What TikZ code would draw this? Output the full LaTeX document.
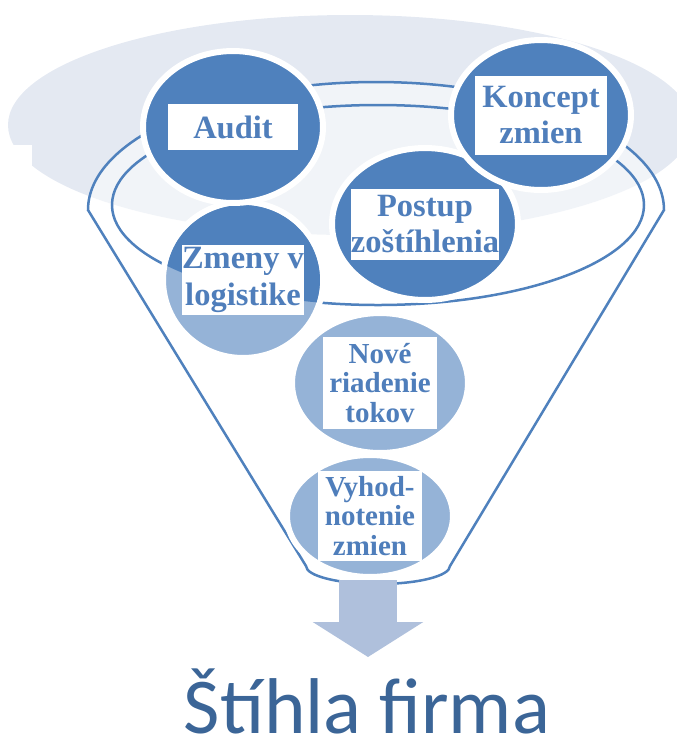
\documentclass[tikz,border=0pt]{standalone}
\usepackage{fontspec}
\newfontfamily\boxfont{Liberation Serif}
\newfontfamily\titlefont{Carlito}
\usetikzlibrary{shapes.geometric,arrows.meta}
\definecolor{bgblue}{HTML}{E4E9F2}
\definecolor{lineblue}{HTML}{4F81BD}
\definecolor{darkblue}{HTML}{4F81BD}
\definecolor{lightblue}{HTML}{95B3D7}
\definecolor{textblue}{HTML}{4F7EBB}
\definecolor{arrowblue}{HTML}{AFC0DC}
\definecolor{titleblue}{HTML}{3B6597}

\begin{document}
\begin{tikzpicture}[x=0.02cm, y=-0.02cm,
  blob/.style={shape=ellipse, draw=white, line width=0.12cm, inner sep=0pt},
  darkblob/.style={blob, fill=darkblue},
  lightblob/.style={blob, fill=lightblue},
  boxlabel/.style={fill=white, inner sep=0pt, align=center, text=textblue,
    font=\boxfont\bfseries\fontsize{18.5}{21}\selectfont},
  smalllabel/.style={boxlabel, font=\boxfont\bfseries\fontsize{16.5}{17}\selectfont},
  rim/.style={draw=lineblue, line width=0.05cm}]
\useasboundingbox (0,0) rectangle (677,752);
\clip (0,0) rectangle (677,752);

\fill[bgblue] (350,125) ellipse [x radius=342, y radius=110];
\fill[white] (0,145) rectangle (32,260);

\path[rim, fill=white, fill opacity=.5] (88,210) arc [start angle=180, end angle=360, x radius=288, y radius=128]
  -- (450,566) arc [start angle=0, end angle=180, x radius=72, y radius=18] -- cycle;
\draw[rim] (378,205) ellipse [x radius=266, y radius=100];

\node[lightblob, minimum width=3.2cm, minimum height=3.12cm] (zmeny) at (243,280) {};
\begin{scope}
  \clip (378,205) ellipse [x radius=266, y radius=100];
  \fill[darkblue] (zmeny.center) ellipse [x radius=1.54cm, y radius=1.5cm];
\end{scope}
\node[lightblob, minimum width=3.52cm, minimum height=2.8cm] (nove) at (380,383) {};
\node[lightblob, minimum width=3.32cm, minimum height=2.44cm] (vyhod) at (370,516) {};
\node[darkblob, minimum width=3.72cm, minimum height=3.04cm] (postup) at (425,224) {};
\node[darkblob, minimum width=3.6cm, minimum height=3.04cm] (audit) at (233,127) {};
\node[darkblob, minimum width=3.6cm, minimum height=3cm] (koncept) at (541,115) {};

\node[boxlabel, minimum width=2.6cm, minimum height=0.92cm] (auditbox) at (audit) {Audit};
\node[boxlabel, minimum width=2.64cm, minimum height=1.58cm] (konceptbox) at (koncept) {Koncept\\zmien};
\node[boxlabel, minimum width=2.98cm, minimum height=1.42cm] (postupbox) at (postup) {Postup\\zoštíhlenia};
\node[boxlabel, minimum width=2.42cm, minimum height=1.4cm] (zmenybox) at (zmeny) {Zmeny v\\logistike};
\node[smalllabel, minimum width=2.3cm, minimum height=1.84cm] (novebox) at (nove) {Nové\\riadenie\\tokov};
\node[smalllabel, minimum width=2.1cm, minimum height=1.8cm] (vyhodbox) at (vyhod) {Vyhod-\\notenie\\zmien};

\coordinate (arrowtop) at (368,580);
\coordinate (arrowtip) at (368,657);
\draw[arrowblue, line width=1.18cm, -{Triangle[length=0.7cm, width=2.18cm]}] (arrowtop) -- (arrowtip);

\node[font=\titlefont\fontsize{45}{45}\selectfont, text=titleblue, anchor=base, inner sep=0pt, text depth=0pt] (title) at (367,733) {Štíhla firma};
\end{tikzpicture}
\end{document}
